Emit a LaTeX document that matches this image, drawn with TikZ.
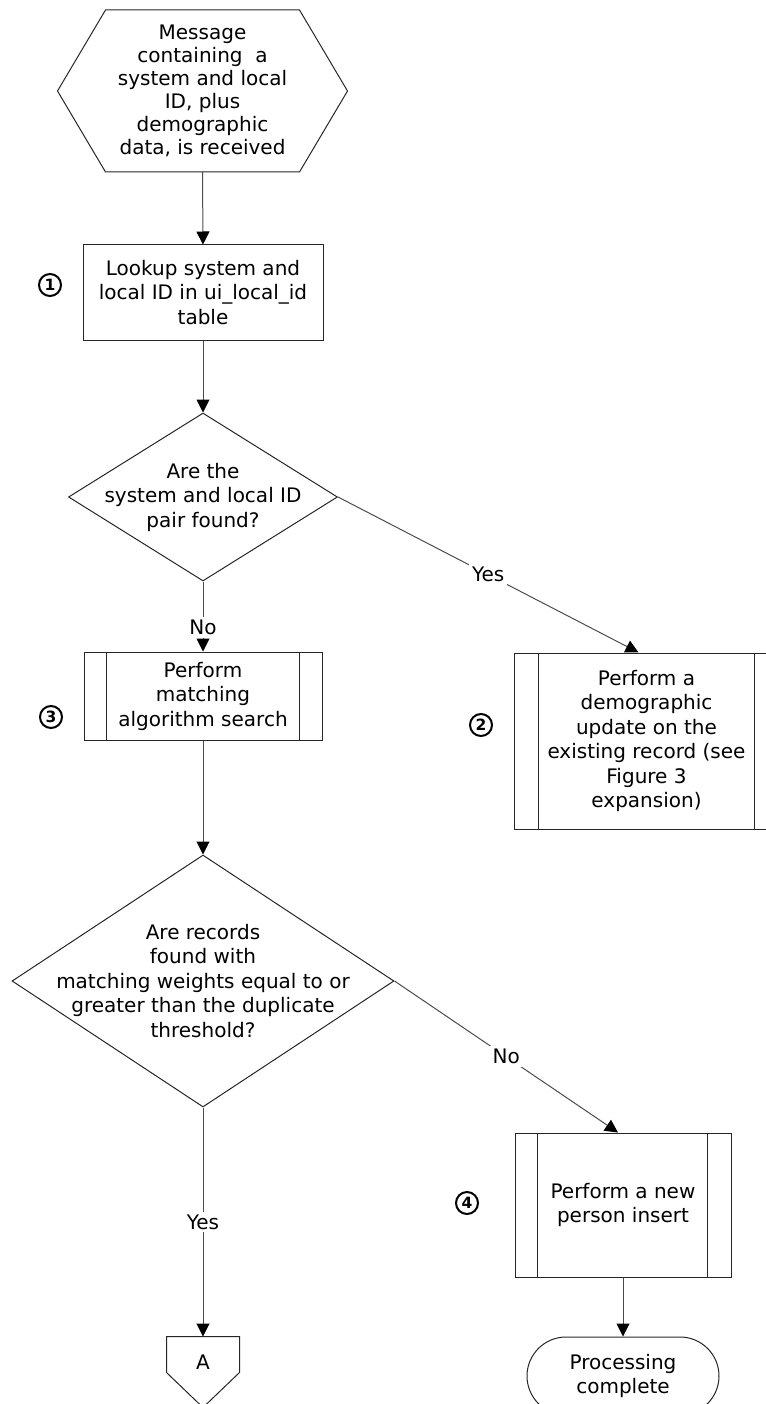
\documentclass[tikz,border=0pt]{standalone}
\usepackage{fontspec}
\setmainfont{DejaVu Sans}
\usetikzlibrary{shapes.geometric,arrows.meta,calc}

\begin{document}
\begin{tikzpicture}[x=1pt,y=-1pt,line width=1pt,
  every node/.style={font=\fontsize{20}{24.5}\selectfont},
  linecol/.style={draw=black!85},
  box/.style={rectangle, linecol, inner sep=0pt, align=center},
  decision/.style={diamond, linecol, inner sep=0pt},
  txt/.style={align=center, inner sep=0pt},
  conn/.style={draw=black!70, -{Triangle[length=13pt,width=13pt,color=black]}},
  lbl/.style={fill=white, inner sep=3pt},
  stepnum/.style={circle, draw=black, line width=2pt, minimum size=22pt,
    inner sep=0pt, font=\fontsize{15.5}{15.5}\bfseries\selectfont}
]
\useasboundingbox (0,0) rectangle (765,1404);

% start: hexagon
\node[txt, minimum width=289, minimum height=161,
  font=\fontsize{20}{23}\selectfont] (msg) at (202.5,91)
  {Message\\containing\ \ a\\system and local\\ID, plus\\demographic\\data, is received};
\draw[linecol] (msg.west) -- ([xshift=48pt]msg.north west) -- ([xshift=-48pt]msg.north east)
  -- (msg.east) -- ([xshift=-48pt]msg.south east) -- ([xshift=48pt]msg.south west) -- cycle;

% lookup
\node[box, draw, minimum width=240, minimum height=95] (b1) at (203,292.5)
  {Lookup system and\\local ID in ui\_local\_id\\table};
\node[stepnum] (n1) at (50,285) {1};

% first decision
\node[decision, draw, minimum width=269, minimum height=168] (d1) at (203,497) {};
\node[txt] (d1t) at (d1) {Are the\\system and local ID\\pair found?};

% matching search
\node[box, draw, minimum width=238, minimum height=88] (b3) at (203,696)
  {Perform\\matching\\algorithm search};
\draw[linecol] ([xshift=23pt]b3.north west) -- ([xshift=23pt]b3.south west);
\draw[linecol] ([xshift=-23pt]b3.north east) -- ([xshift=-23pt]b3.south east);
\node[stepnum] (n3) at (51,717) {3};

% demographic update
\node[box, draw, minimum width=265, minimum height=176] (b2) at (646.5,741)
  {Perform a\\demographic\\update on the\\existing record (see\\Figure 3\\expansion)};
\draw[linecol] ([xshift=25pt]b2.north west) -- ([xshift=25pt]b2.south west);
\draw[linecol] ([xshift=-25pt]b2.north east) -- ([xshift=-25pt]b2.south east);
\node[stepnum] (n2) at (481,725) {2};

% second decision
\node[decision, draw, minimum width=382, minimum height=252] (d2) at (203,981) {};
\node[txt] (d2t) at (d2) {Are records\\found with\\matching weights equal to or\\greater than the duplicate\\threshold?};

% new person insert
\node[box, draw, minimum width=216, minimum height=144] (b4) at (623,1205)
  {Perform a new\\person insert};
\draw[linecol] ([xshift=23pt]b4.north west) -- ([xshift=23pt]b4.south west);
\draw[linecol] ([xshift=-24pt]b4.north east) -- ([xshift=-24pt]b4.south east);
\node[stepnum] (n4) at (467,1203) {4};

% terminator
\node[box, draw, rounded corners=39pt, minimum width=192, minimum height=78] (term) at (623,1376)
  {Processing\\complete};

% off-page connector
\node[minimum width=72, minimum height=70, inner sep=0pt] (off) at (203,1372) {};
\draw[linecol] ($(off.north west)+(0,36)$) -- (off.north west) -- (off.north east)
  -- ($(off.north east)+(0,36)$) -- (off.south) -- cycle;
\node[txt] (offA) at (203,1362) {A};

% connectors
\draw[conn] (msg.south) -- (b1.north);
\draw[conn] (b1.south) -- (d1.north);
\draw[conn] (d1.south) -- node[lbl, pos=0.66] {No} (b3.north);
\draw[conn] (d1.east) -- node[lbl] {Yes} ([xshift=-8pt]b2.north);
\draw[conn] (b3.south) -- (d2.north);
\draw[conn] (d2.east) -- node[lbl] {No} ([xshift=-5pt]b4.north);
\draw[conn] (d2.south) -- node[lbl] {Yes} (off.north);
\draw[conn] (b4.south) -- (term.north);
\end{tikzpicture}
\end{document}
